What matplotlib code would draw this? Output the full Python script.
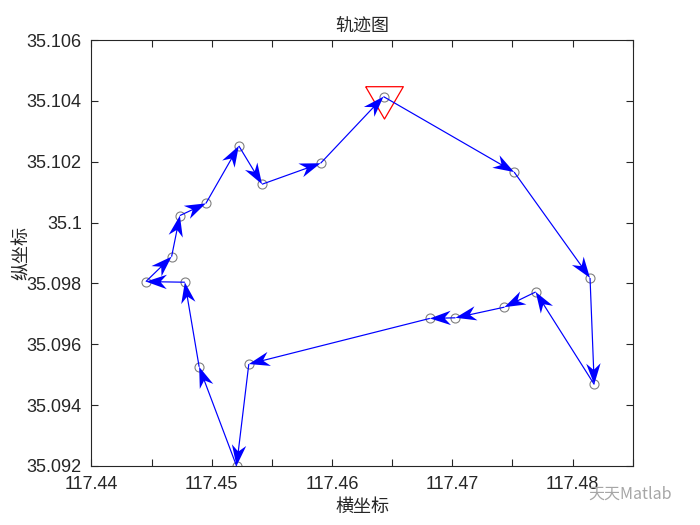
import matplotlib.pyplot as plt
import numpy as np
from matplotlib.ticker import FixedLocator, FixedFormatter

# track points (lon, lat), first point is the start (red triangle)
lon = np.array([117.46428, 117.47514, 117.48145, 117.48180, 117.47693, 117.47433,
                117.47026, 117.46813, 117.45308, 117.45206, 117.44895, 117.44776,
                117.44452, 117.44666, 117.44735, 117.44951, 117.45225, 117.45418,
                117.45905])
lat = np.array([35.10414, 35.10166, 35.09818, 35.09468, 35.09772, 35.09722,
                35.09687, 35.09685, 35.09535, 35.09200, 35.09526, 35.09804,
                35.09806, 35.09888, 35.10023, 35.10063, 35.10252, 35.10126,
                35.10195])

xticks = [117.44, 117.445, 117.45, 117.455, 117.46, 117.465, 117.47, 117.475, 117.48, 117.485]
xticklabels = ['117.44', '', '117.45', '', '117.46', '', '117.47', '', '117.48', '']
yticks = [35.092, 35.094, 35.096, 35.098, 35.100, 35.102, 35.104, 35.106]
yticklabels = ['35.092', '35.094', '35.096', '35.098', '35.1', '35.102', '35.104', '35.106']

plt.rcParams['font.family'] = ['Liberation Sans', 'Noto Sans CJK SC']
cjk = ['Noto Sans CJK SC', 'DejaVu Sans']
axc = (0.15, 0.15, 0.15)

fig = plt.figure(figsize=(7, 5.25), dpi=100)
ax = fig.add_axes([0.1307, 0.1124, 0.7732, 0.8114])

# closed loop back to start
px = np.append(lon, lon[0])
py = np.append(lat, lat[0])
u = np.diff(px)
v = np.diff(py)

ax.plot(lon, lat, 'o', ms=6.5, mfc='none', mec=(0.5, 0.5, 0.5), mew=0.8, zorder=2)

# downward triangle, closed outline
tri = [(-1, 0.573), (1, 0.573), (0, -1.143), (-1, 0.573)]
ax.plot(lon[0], lat[0], marker=tri, ms=31, mfc='none', mec='red', mew=0.9, ls='none', zorder=3)

ax.quiver(px[:-1], py[:-1], u, v, angles='xy', scale_units='xy', scale=1,
          color=(0, 0, 1), units='dots', width=1.2,
          headwidth=12, headlength=17.5, headaxislength=12.5, zorder=4)

ax.set_xlim(117.44, 117.485)
ax.set_ylim(35.092, 35.106)
ax.xaxis.set_major_locator(FixedLocator(xticks))
ax.xaxis.set_major_formatter(FixedFormatter(xticklabels))
ax.yaxis.set_major_locator(FixedLocator(yticks))
ax.yaxis.set_major_formatter(FixedFormatter(yticklabels))

ax.tick_params(direction='in', top=True, right=True, length=5, width=0.8,
               colors=axc, labelsize=13, pad=7)
for s in ax.spines.values():
    s.set_color(axc)
    s.set_linewidth(0.8)

ax.set_title('轨迹图', family=cjk, fontsize=13, color=axc, pad=7)
ax.set_xlabel('横坐标', family=cjk, fontsize=13, color=axc, labelpad=4)
ax.set_ylabel('纵坐标', family=cjk, fontsize=13, color=axc, labelpad=-3)

# watermark
fig.text(0.841, 0.050, '天天Matlab', family=cjk, fontsize=11.5, color=(0.65, 0.65, 0.65))

fig.savefig('out.png', dpi=100)
